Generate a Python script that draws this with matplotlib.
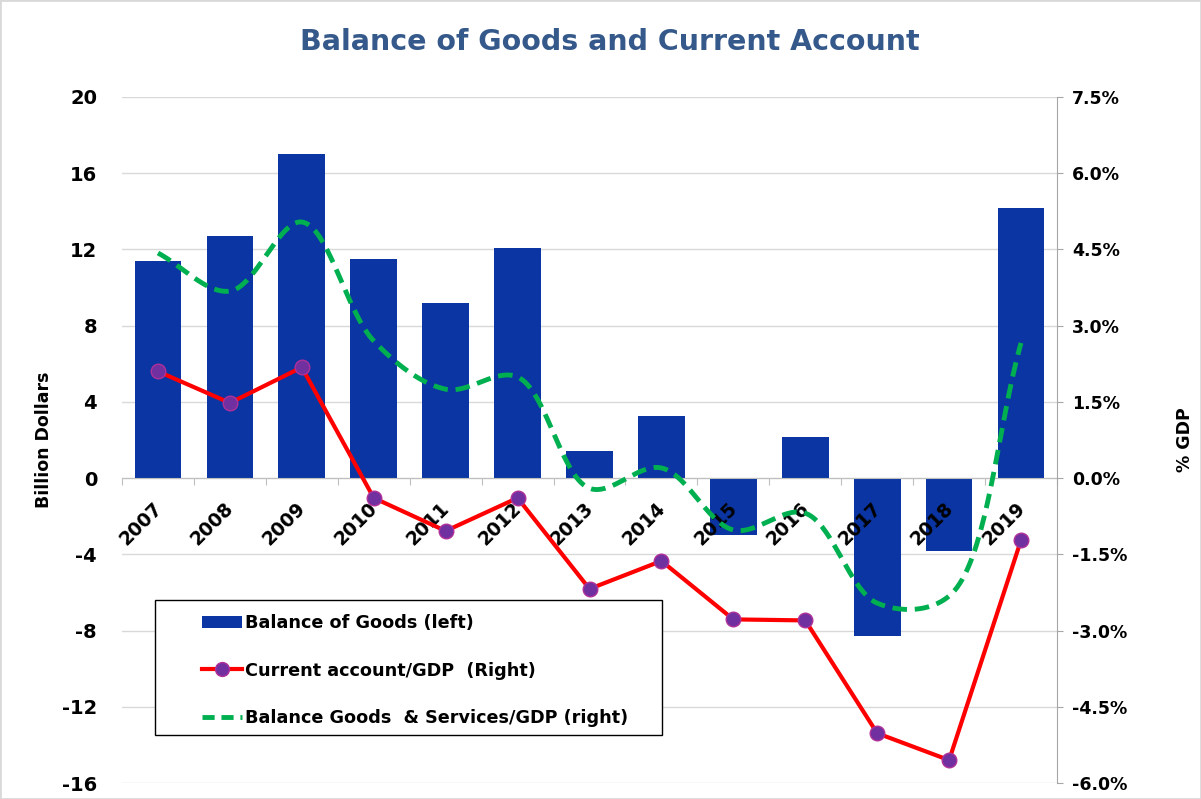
import numpy as np
import matplotlib
matplotlib.use("Agg")
import matplotlib.pyplot as plt
from matplotlib.lines import Line2D
from matplotlib.patches import Patch, Rectangle
from matplotlib.ticker import FuncFormatter

plt.rcParams["axes.unicode_minus"] = False

years = ["2007", "2008", "2009", "2010", "2011", "2012", "2013",
         "2014", "2015", "2016", "2017", "2018", "2019"]
balance_goods = [11.4, 12.7, 17.0, 11.5, 9.2, 12.1, 1.4, 3.25, -3.0, 2.15, -8.3, -3.8, 14.2]
current_account_gdp = [2.10, 1.48, 2.18, -0.39, -1.04, -0.39, -2.18, -1.63, -2.78, -2.80, -5.02, -5.55, -1.22]
goods_services_gdp = [4.43, 3.68, 5.04, 2.70, 1.75, 1.99, -0.20, 0.20, -1.02, -0.69, -2.46, -2.32, 2.66]
left_ticks = [20, 16, 12, 8, 4, 0, -4, -8, -12, -16]
right_ticks = [7.5, 6.0, 4.5, 3.0, 1.5, 0.0, -1.5, -3.0, -4.5, -6.0]


def smooth_curve(x, y, sx=72.0, sy=50.8, n=40, alpha=0.5):
    """Centripetal Catmull-Rom spline through the points (computed in screen-like units)."""
    P = np.column_stack([np.asarray(x, float) * sx, np.asarray(y, float) * sy])
    P = np.vstack([2 * P[0] - P[1], P, 2 * P[-1] - P[-2]])
    out = []
    for i in range(1, len(P) - 2):
        p0, p1, p2, p3 = P[i - 1], P[i], P[i + 1], P[i + 2]
        t0 = 0.0
        t1 = t0 + np.hypot(*(p1 - p0)) ** alpha
        t2 = t1 + np.hypot(*(p2 - p1)) ** alpha
        t3 = t2 + np.hypot(*(p3 - p2)) ** alpha
        t = np.linspace(t1, t2, n, endpoint=False)[:, None]
        a1 = (t1 - t) / (t1 - t0) * p0 + (t - t0) / (t1 - t0) * p1
        a2 = (t2 - t) / (t2 - t1) * p1 + (t - t1) / (t2 - t1) * p2
        a3 = (t3 - t) / (t3 - t2) * p2 + (t - t2) / (t3 - t2) * p3
        b1 = (t2 - t) / (t2 - t0) * a1 + (t - t0) / (t2 - t0) * a2
        b2 = (t3 - t) / (t3 - t1) * a2 + (t - t1) / (t3 - t1) * a3
        c = (t2 - t) / (t2 - t1) * b1 + (t - t1) / (t2 - t1) * b2
        out.append(c)
    out.append(P[-2:-1])
    out = np.vstack(out)
    return out[:, 0] / sx, out[:, 1] / sy


fig = plt.figure(figsize=(12.01, 7.99), dpi=100)
ax = fig.add_axes([0.1016, 0.020, 0.7785, 0.8586])
ax2 = ax.twinx()

x = np.arange(len(years))
bar_color = "#0A35A2"
for t in left_ticks:
    ax.axhline(t, color="#D9D9D9", linewidth=1.0, zorder=0.5)
ax.bar(x, balance_goods, width=0.65, color=bar_color, zorder=2)
ax.set_axisbelow(False)
ax.set_xlim(-0.5, len(years) - 0.5)
ax.set_ylim(-16, 20)
ax.set_yticks(left_ticks)
for s in ["top", "left", "right"]:
    ax.spines[s].set_visible(False)
ax.spines["bottom"].set_position(("data", 0))
ax.spines["bottom"].set_color("#BFBFBF")
ax.tick_params(axis="y", length=0, pad=18, labelsize=14)
for lab in ax.get_yticklabels():
    lab.set_fontweight("bold")
ax.set_xticks(np.arange(len(years) + 1) - 0.5)
ax.set_xticklabels([])
ax.tick_params(axis="x", which="major", length=5, color="#BFBFBF", direction="out")
ax.set_xticks(x - 0.08, minor=True)
ax.set_xticklabels(years, minor=True, rotation=45, ha="right", va="top",
                   rotation_mode="anchor", fontsize=13.5, fontweight="bold")
ax.tick_params(axis="x", which="minor", length=0, pad=15)
ax.set_ylabel("Billion Dollars", fontsize=12.5, fontweight="bold", labelpad=6)

ax2.set_ylim(-6.0, 7.5)
ax2.set_yticks(right_ticks)
ax2.yaxis.set_major_formatter(FuncFormatter(lambda v, p: f"{v:.1f}%"))
for s in ["top", "left", "bottom"]:
    ax2.spines[s].set_visible(False)
ax2.spines["right"].set_color("#A6A6A6")
ax2.tick_params(axis="y", length=4, color="#A6A6A6", pad=7, labelsize=12.5)
for lab in ax2.get_yticklabels():
    lab.set_fontweight("bold")
ax2.set_ylabel("% GDP", fontsize=12.5, fontweight="bold", labelpad=35)

sxs, sys_ = smooth_curve(x, goods_services_gdp)
ax2.plot(sxs, sys_, color="#00B050", linewidth=3.5, linestyle=(0, (3, 1.6)), zorder=3)
ax2.plot(x, current_account_gdp, color="#FF0000", linewidth=3, marker="o", markersize=10.5,
         markerfacecolor="#7030A0", markeredgecolor="#B0309A", markeredgewidth=1.0, zorder=4)

fig.text(0.508, 0.947, "Balance of Goods and Current Account", ha="center", va="center",
         fontsize=20.5, fontweight="bold", color="#35598A")

handles = [Patch(facecolor=bar_color, edgecolor="none"),
           Line2D([], [], color="#FF0000", linewidth=3, marker="o", markersize=10,
                  markerfacecolor="#7030A0", markeredgecolor="#B0309A"),
           Line2D([], [], color="#00B050", linewidth=3.5, linestyle=(0, (2.5, 1.4)))]
labels = ["Balance of Goods (left)", "Current account/GDP  (Right)",
          "Balance Goods  & Services/GDP (right)"]
leg = fig.legend(handles, labels, loc="upper left",
                 bbox_to_anchor=(202 / 1201, 1 - 614 / 799),
                 frameon=False, prop={"weight": "bold", "size": 12.7},
                 borderpad=0, labelspacing=1.68, handlelength=2.25, handletextpad=0.2,
                 borderaxespad=0)
fig.patches.append(Rectangle((155 / 1201, 1 - 735 / 799), (662 - 155) / 1201, (735 - 600) / 799,
                             transform=fig.transFigure, fill=True, facecolor="white",
                             edgecolor="black", linewidth=1.0, zorder=5))
leg.set_zorder(6)

fig.patches.append(Rectangle((0, 0), 1, 1, transform=fig.transFigure, fill=False,
                             edgecolor="#D9D9D9", linewidth=2))
fig.savefig("out.png", dpi=100)
